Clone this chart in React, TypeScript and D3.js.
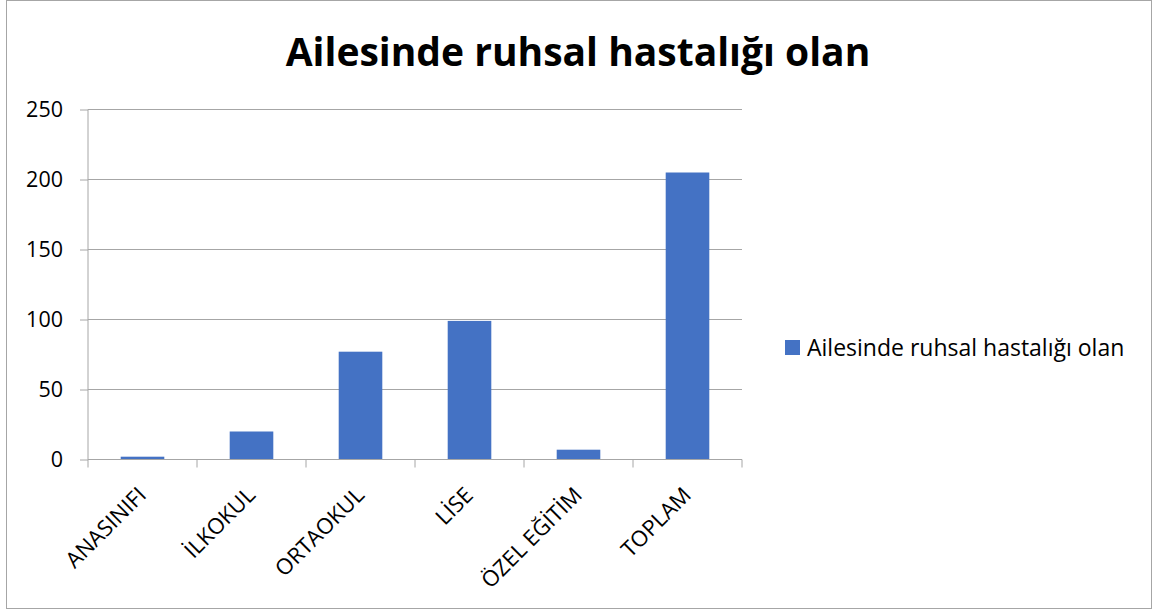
import React, { useEffect, useRef } from 'react'
import * as d3 from 'd3'

const title = 'Ailesinde ruhsal hastalığı olan'
const categories = ['ANASINIFI', 'İLKOKUL', 'ORTAOKUL', 'LİSE', 'ÖZEL EĞİTİM', 'TOPLAM']
const values = [2, 20, 77, 99, 7, 205]
const yTicks = [0, 50, 100, 150, 200, 250]

const W = 1153
const H = 616
const FONT = '"Open Sans", Lato, sans-serif'

export default function App() {
  const svgEl = useRef<SVGSVGElement | null>(null)

  useEffect(() => {
    if (!svgEl.current) return
    const svg = d3.select(svgEl.current)
    svg.selectAll('*').remove()

    const margin = { top: 109.5, left: 88, right: 411, bottom: 156.5 }
    const width = W - margin.left - margin.right
    const height = H - margin.top - margin.bottom

    // chart border
    svg.append('rect')
      .attr('x', 6.5).attr('y', 0.5)
      .attr('width', W - 8).attr('height', H - 8)
      .attr('fill', '#fff').attr('stroke', '#a6a6a6').attr('stroke-width', 1)

    svg.append('text')
      .attr('x', 578).attr('y', 66)
      .attr('text-anchor', 'middle')
      .attr('font-family', FONT).attr('font-weight', 700).attr('font-size', 39)
      .attr('fill', '#000')
      .text(title)

    const g = svg.append('g').attr('transform', `translate(${margin.left},${margin.top})`)

    const x = d3.scaleBand().domain(categories).range([0, width]).paddingInner(0.6).paddingOuter(0.3)
    const y = d3.scaleLinear().domain([0, 250]).range([height, 0])

    // gridlines
    g.selectAll('line.grid')
      .data(yTicks.filter(t => t > 0))
      .enter().append('line')
      .attr('x1', 0).attr('x2', width)
      .attr('y1', d => y(d)).attr('y2', d => y(d))
      .attr('stroke', '#a6a6a6').attr('stroke-width', 1)

    // y axis
    const yAxis = g.append('g')
      .call(d3.axisLeft(y).tickValues(yTicks).tickSize(8).tickPadding(17))
    yAxis.select('.domain').attr('stroke', '#a6a6a6').attr('d', `M0,${height}V0`)
    yAxis.selectAll('.tick line').attr('stroke', '#a6a6a6')
    yAxis.selectAll('.tick text')
      .attr('font-family', FONT).attr('font-size', 21.5).attr('fill', '#000')

    // bars
    g.selectAll('rect.bar')
      .data(values)
      .enter().append('rect')
      .attr('x', (_, i) => x(categories[i]) as number)
      .attr('y', d => y(d))
      .attr('width', x.bandwidth())
      .attr('height', d => height - y(d))
      .attr('fill', '#4472c4')

    // x axis
    const step = width / categories.length
    const xAxis = g.append('g').attr('transform', `translate(0,${height})`)
    xAxis.append('line')
      .attr('x1', 0).attr('x2', width)
      .attr('stroke', '#a6a6a6')
    xAxis.selectAll('line.tick')
      .data(d3.range(categories.length + 1))
      .enter().append('line')
      .attr('x1', d => d * step).attr('x2', d => d * step)
      .attr('y1', 0).attr('y2', 8)
      .attr('stroke', '#a6a6a6')
    xAxis.selectAll('text.lbl')
      .data(categories)
      .enter().append('text')
      .attr('transform', d => `translate(${(x(d) as number) + x.bandwidth() / 2 + 5},${37}) rotate(-45)`)
      .attr('text-anchor', 'end')
      .attr('font-family', FONT).attr('font-size', 22).attr('fill', '#000')
      .text(d => d)

    // legend
    const lg = svg.append('g').attr('transform', 'translate(785,340)')
    lg.append('rect').attr('width', 15).attr('height', 15).attr('fill', '#4472c4')
    lg.append('text')
      .attr('x', 22).attr('y', 16)
      .attr('font-family', FONT).attr('font-size', 23).attr('fill', '#000')
      .text(title)
  }, [])

  return (
    <svg
      ref={svgEl}
      width={W}
      height={H}
      style={{ position: 'absolute', left: 0, top: 0, display: 'block' }}
    />
  )
}
